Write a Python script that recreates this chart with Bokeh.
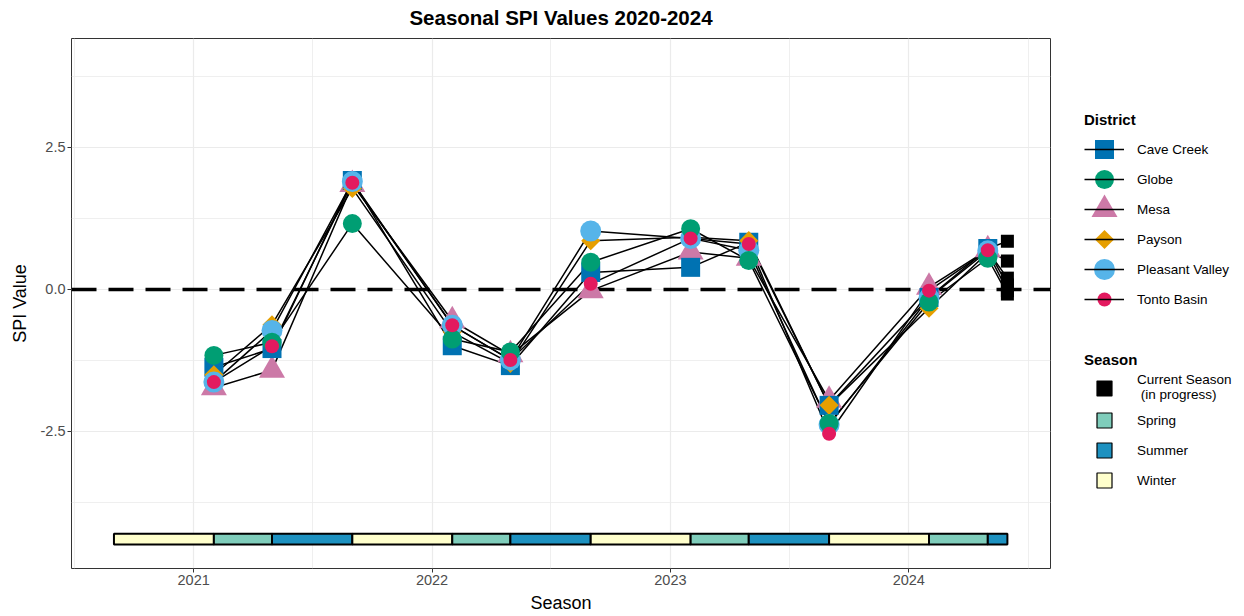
import numpy as np
import pandas as pd
from bokeh.plotting import figure
from bokeh.models import (Range1d, FixedTicker, DatetimeTickFormatter, PrintfTickFormatter,
                          Span, Legend, LegendItem, Title)
from bokeh.layouts import row
from bokeh.embed import file_html
from bokeh.resources import INLINE

# ---------------- data ----------------
season_end_dates = ["2021-02-01", "2021-05-01", "2021-09-01", "2022-02-01", "2022-05-01",
                    "2022-09-01", "2023-02-01", "2023-05-01", "2023-09-01", "2024-02-01",
                    "2024-05-01"]
current_date = "2024-05-31"

districts = ["Cave Creek", "Globe", "Mesa", "Payson", "Pleasant Valley", "Tonto Basin"]
spi_cave_creek = [-1.37, -1.04, 1.92, -0.99, -1.34, 0.30, 0.39, 0.83, -2.04, -0.14, 0.72]
spi_globe = [-1.16, -0.93, 1.16, -0.87, -1.10, 0.48, 1.07, 0.51, -2.36, -0.22, 0.55]
spi_mesa = [-1.73, -1.42, 1.85, -0.55, -1.15, -0.02, 0.66, 0.55, -1.95, 0.04, 0.70]
spi_payson = [-1.50, -0.62, 1.78, -0.75, -1.30, 0.86, 0.92, 0.86, -2.04, -0.33, 0.65]
spi_pleasant_valley = [-1.63, -0.72, 1.90, -0.63, -1.24, 1.03, 0.90, 0.69, -2.38, -0.15, 0.68]
spi_tonto_basin = [-1.63, -1.00, 1.88, -0.63, -1.24, 0.10, 0.90, 0.80, -2.54, -0.02, 0.69]
current_spi = [0.85, -0.08, 0.08, -0.02, 0.20, 0.50]

season_starts = ["2020-09-01", "2021-02-01", "2021-05-01", "2021-09-01", "2022-02-01",
                 "2022-05-01", "2022-09-01", "2023-02-01", "2023-05-01", "2023-09-01",
                 "2024-02-01", "2024-05-01"]
season_ends = ["2021-02-01", "2021-05-01", "2021-09-01", "2022-02-01", "2022-05-01",
               "2022-09-01", "2023-02-01", "2023-05-01", "2023-09-01", "2024-02-01",
               "2024-05-01", "2024-05-31"]
season_names = ["Winter", "Spring", "Summer", "Winter", "Spring", "Summer",
                "Winter", "Spring", "Summer", "Winter", "Spring", "Summer"]

season_legend_labels = ["Current Season\n (in progress)", "Spring", "Summer", "Winter"]
season_colors = {"Current Season\n (in progress)": "#000000", "Spring": "#7FCDBB",
                 "Summer": "#1D91C0", "Winter": "#FFFFCC"}

district_colors = ["#0072B2", "#009E73", "#CC79A7", "#E69F00", "#56B4E9", "#E31A5F"]
district_markers = ["square", "circle", "triangle", "square", "circle", "circle"]
district_sizes = [19, 19, 26, 13.5, 21, 14]
district_angles = [0, 0, 0, np.pi / 4, 0, 0]
draw_order = [2, 0, 3, 4, 1, 5]   # stacking of point layers (bottom -> top)

x_tick_dates = ["2021-01-01", "2022-01-01", "2023-01-01", "2024-01-01"]
x_minor_dates = ["2020-07-02", "2021-07-02", "2022-07-02", "2023-07-02", "2024-07-02"]
y_ticks = [-2.5, 0.0, 2.5]
y_minor = [-3.75, -1.25, 1.25, 3.75]

FONT = "Liberation Sans"


def ms(d):
    return pd.Timestamp(d).value / 1e6


all_spi = [spi_cave_creek, spi_globe, spi_mesa, spi_payson, spi_pleasant_valley, spi_tonto_basin]
dates = pd.to_datetime(season_end_dates)
cur = pd.Timestamp(current_date)

# ---------------- main figure ----------------
p = figure(width=1062, height=615, x_axis_type="datetime", output_backend="svg",
           toolbar_location=None,
           x_range=Range1d(start=pd.Timestamp("2020-06-28"), end=pd.Timestamp("2024-08-05")),
           y_range=Range1d(-4.912, 4.419),
           min_border_left=71, min_border_right=12, min_border_top=38, min_border_bottom=47,
           title="Seasonal SPI Values 2020-2024")
p.title.align = "center"
p.title.text_font = FONT
p.title.text_font_size = "20.5px"
p.title.text_font_style = "bold"
p.title.text_color = "black"
p.title.standoff = 3
# small empty band between the title and the panel to lift the title a little
p.add_layout(Title(text=" ", text_font_size="5px", standoff=0), "above")
p.outline_line_color = "#333333"
p.outline_line_width = 1
p.background_fill_color = "white"

p.xaxis.ticker = FixedTicker(ticks=[ms(d) for d in x_tick_dates],
                             minor_ticks=[ms(d) for d in x_minor_dates])
p.xaxis.formatter = DatetimeTickFormatter(years="%Y", months="%Y", days="%Y",
                                          hours="%Y", minutes="%Y")
p.yaxis.ticker = FixedTicker(ticks=y_ticks, minor_ticks=y_minor)
p.yaxis.formatter = PrintfTickFormatter(format="%.1f")
p.xaxis.axis_label = "Season"
p.yaxis.axis_label = "SPI Value"
for ax in (p.xaxis, p.yaxis):
    ax.axis_line_color = None
    ax.major_tick_line_color = "#333333"
    ax.major_tick_out = 4
    ax.major_tick_in = 0
    ax.minor_tick_line_color = None
    ax.major_label_text_font = FONT
    ax.major_label_text_font_size = "14.5px"
    ax.major_label_text_color = "#4D4D4D"
    ax.axis_label_text_font = FONT
    ax.axis_label_text_font_size = "18px"
    ax.axis_label_text_font_style = "normal"
    ax.axis_label_text_color = "black"
p.xaxis.major_label_standoff = 2
p.xaxis.axis_label_standoff = 5
p.yaxis.major_label_standoff = 2
p.yaxis.axis_label_standoff = 8

p.grid.grid_line_color = "#EBEBEB"
p.grid.grid_line_width = 1.2
p.grid.minor_grid_line_color = "#EBEBEB"
p.grid.minor_grid_line_width = 0.8

zero = Span(location=0, dimension="width", line_color="black", line_width=3.5,
            line_dash="25 12", level="underlay")
p.add_layout(zero)

# season bar
p.quad(left=pd.to_datetime(season_starts), right=pd.to_datetime(season_ends),
       bottom=-4.49, top=-4.30,
       fill_color=[season_colors[s] for s in season_names],
       line_color="black", line_width=2)

# connecting lines
for vals, cv in zip(all_spi, current_spi):
    xs = list(dates) + [cur]
    ys = list(vals) + [cv]
    p.line(xs, ys, line_color="black", line_width=1.5)

# points
for i in draw_order:
    p.scatter(dates, all_spi[i], marker=district_markers[i], size=district_sizes[i],
              fill_color=district_colors[i], line_color=None, angle=district_angles[i])

# current season points
p.scatter([cur] * len(current_spi), current_spi, marker="square", size=13,
          fill_color="black", line_color=None)

# ---------------- legend figure ----------------
# frame is aligned with the main plot frame (530 px tall); y measured in px from its top
lf = figure(width=180, height=615, toolbar_location=None, output_backend="svg",
            x_range=Range1d(0, 180), y_range=Range1d(530, 0), min_border=0,
            x_axis_location=None, y_axis_location=None, outline_line_color=None)
lf.grid.visible = False

OFF = [-50.0]  # dummy coordinates outside the visible range
GLYPH_X = 42   # centre of the legend glyph column, px
d_items = []
for name in districts:
    lr = lf.line(x=OFF * 2, y=OFF * 2, line_color="black", line_width=1.5)
    d_items.append(LegendItem(label=name, renderers=[lr]))

s_items = []
for lab in season_legend_labels:
    sr = lf.scatter(x=OFF, y=OFF, marker="square", size=1, fill_alpha=0, line_alpha=0)
    s_items.append(LegendItem(label=lab, renderers=[sr]))

# legend keys drawn at full size on top of the legend rows
d_rows_y = [111 + 30 * i for i in range(len(districts))]
for yy, col, mk, sz, ang in zip(d_rows_y, district_colors, district_markers,
                                district_sizes, district_angles):
    r = lf.scatter(x=[GLYPH_X], y=[yy], marker=mk, size=sz, fill_color=col,
                   line_color=None, angle=ang)
    r.level = "overlay"
s_rows_y = [350, 382, 412, 442]
for yy, lab in zip(s_rows_y, season_legend_labels):
    r = lf.scatter(x=[GLYPH_X], y=[yy], marker="square", size=15,
                   fill_color=season_colors[lab], line_color="black", line_width=1.2)
    r.level = "overlay"


def style(leg, standoff):
    leg.title_text_font = FONT
    leg.title_text_font_style = "bold"
    leg.title_text_font_size = "15px"
    leg.title_text_color = "black"
    leg.label_text_font = FONT
    leg.label_text_font_size = "13.5px"
    leg.label_text_color = "black"
    leg.glyph_width = 40
    leg.glyph_height = 24
    leg.label_height = 24
    leg.label_standoff = 13
    leg.spacing = 6
    leg.padding = 0
    leg.margin = 0
    leg.border_line_color = None
    leg.background_fill_alpha = 0
    leg.title_standoff = standoff


leg1 = Legend(items=d_items, title="District", location=(22, 257))
style(leg1, 9)
leg2 = Legend(items=s_items, title="Season", location=(22, 76))
style(leg2, 4)
lf.add_layout(leg1)
lf.add_layout(leg2)

layout = row(p, lf)
open("out.html", "w").write(file_html(layout, INLINE))
